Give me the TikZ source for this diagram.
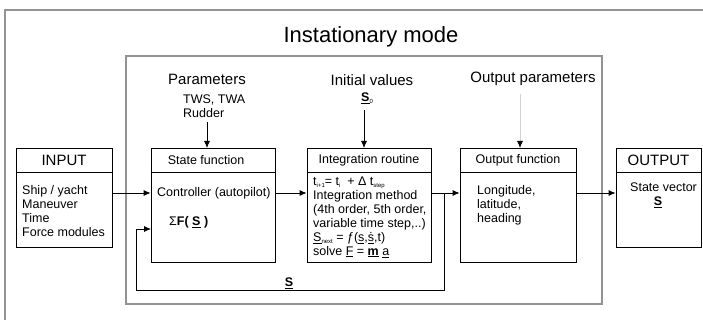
\documentclass[tikz,border=0pt]{standalone}
\usepackage{fontspec}
\setmainfont{Liberation Sans}
\usetikzlibrary{arrows.meta,positioning}
\newcommand{\sub}[1]{\raisebox{-2pt}{\fontsize{6}{6}\selectfont #1}}
\newcommand{\vS}{\textbf{\underline{S}}}

\begin{document}
\begin{tikzpicture}[x=1pt,y=-1pt,
  frame/.style={draw=gray!85, line width=1.3pt},
  blk/.style={draw, line width=0.8pt, rectangle, inner sep=0pt},
  txt/.style={inner sep=0pt, align=left, font=\fontsize{12.5}{14}\selectfont},
  lbl/.style={inner sep=0pt, font=\fontsize{15}{18}\selectfont},
  arr/.style={-{Latex[length=7pt,width=6pt]}, line width=0.8pt}]
\useasboundingbox (0,0) rectangle (703,320);
\clip (0,0) rectangle (703,320);
\draw[frame] (5,10) rectangle (720,340);
\draw[frame] (126,56) rectangle (602,304);
\node[inner sep=0pt, font=\fontsize{22}{26}\selectfont] (title) at (371,37) {Instationary mode};

\node[blk, minimum width=96pt, minimum height=99pt] (input) at (64,197.5) {};
\node[blk, minimum width=124pt, minimum height=114pt] (state) at (213,205) {};
\node[blk, minimum width=124pt, minimum height=114pt] (integ) at (369,205) {};
\node[blk, minimum width=116pt, minimum height=114pt] (outf) at (518,205) {};
\node[blk, minimum width=85pt, minimum height=99pt] (output) at (658.5,197.5) {};
\foreach \b in {input,state,integ,outf,output}
  \draw[line width=0.8pt] ([yshift=-25pt]\b.north west) -- ([yshift=-25pt]\b.north east);

\node[lbl] (inhdr) at ([yshift=-12.5pt]input.north) {INPUT};
\node[txt, xshift=-7pt] (sthdr) at ([yshift=-12.5pt]state.north) {State function};
\node[txt] (inthdr) at ([yshift=-12.5pt]integ.north) {Integration routine};
\node[txt] (outfhdr) at ([yshift=-12.5pt]outf.north) {Output function};
\node[lbl] (outhdr) at ([yshift=-12.5pt]output.north) {OUTPUT};

\node[txt, anchor=west] (inbody) at (22,211) {Ship / yacht\\Maneuver\\Time\\Force modules};
\node[txt, anchor=west] (ctrl) at (157,193) {Controller (autopilot)};
\node[txt, anchor=west] (sum) at (169,222) {Σ\textbf{F( \underline{S} )}};
\node[txt, anchor=west] (intbody) at (313,217) {t\sub{i+1}= t\sub{i}\ \ + Δ t\sub{step}\\Integration method\\(4th order, 5th order,\\variable time step,..)\\\underline{S}\sub{next} = ƒ(\underline{s},\underline{\.{s}},t)\\solve \underline{F} = \underline{\textbf{m}} \underline{a}};
\node[txt, anchor=west] (outbody) at (477,205) {Longitude,\\latitude,\\heading};
\node[txt, anchor=west] (svec) at (630,187) {State vector};
\node[txt] (svecS) at (658,202) {\vS};

\draw[arr] (input.east |- ctrl) -- (state.west |- ctrl);
\draw[arr] (state.east |- ctrl) -- (integ.west |- ctrl);
\draw[arr] (integ.east |- ctrl) -- (outf.west |- ctrl);
\draw[arr] (outf.east |- ctrl) -- (output.west |- ctrl);
\coordinate (split) at (444,193);
\coordinate (fbl) at (136,290);
\coordinate (fbin) at (151,229);
\draw[arr] (split) |- (fbl) |- (fbin);
\node[txt] (fbS) at (289,283) {\vS};

\node[lbl] (par) at (207,79) {Parameters};
\node[txt, anchor=west] (tws) at (183,106) {TWS, TWA\\Rudder};
\coordinate (parin) at (207,148);
\draw[arr] ([yshift=-4pt]tws.south -| parin) -- (parin);
\node[lbl] (init) at (372,80) {Initial values};
\node[txt] (s0) at (367,98) {\vS\sub{0}};
\coordinate (initin) at (364,148);
\draw[arr] ([yshift=-6pt]s0.south -| initin) -- (initin);
\node[lbl] (outpar) at (533,79) {Output parameters};
\coordinate (opin) at (520,148);
\draw[-{Latex[length=7pt,width=6pt,color=black]}, draw=gray!35, line width=0.8pt] ([yshift=-8pt]outpar.south -| opin) -- (opin);
\end{tikzpicture}
\end{document}
